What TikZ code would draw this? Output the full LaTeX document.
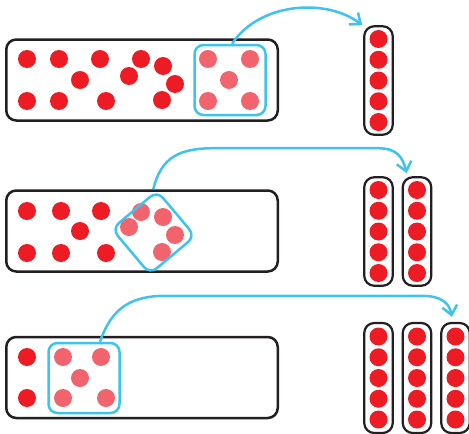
\documentclass[tikz,border=0pt]{standalone}
\usepackage{tikz}
\usetikzlibrary{arrows.meta,positioning,calc}
\definecolor{dotred}{HTML}{ED1C24}
\definecolor{dotpink}{HTML}{F2646D}
\definecolor{pickblue}{HTML}{3EC3EF}
\definecolor{framegray}{HTML}{231F20}

\begin{document}
\begin{tikzpicture}[
    x=1pt, y=-1pt,
    tray/.style={rectangle, rounded corners=10pt, draw=framegray, line width=2.5pt, fill=white, minimum width=271.5pt, minimum height=81pt, inner sep=0pt},
    stick/.style={rectangle, rounded corners=10pt, draw=framegray, line width=2.2pt, fill=white, minimum width=28.5pt, minimum height=108.5pt, inner sep=0pt},
    pick/.style={rectangle, rounded corners=9pt, draw=pickblue, line width=2.5pt, minimum width=71pt, minimum height=70pt, inner sep=0pt},
    dot/.style={fill=dotred},
    dotl/.style={fill=dotpink},
    arrow/.style={-{Straight Barb[length=9pt,width=15pt]}, draw=pickblue, line width=2.5pt}
  ]
    \useasboundingbox (0,0) rectangle (469,434);

    % the three trays
    \node[tray] (tray1) at (142,80) {};
    \node[tray] (tray2) at (142,231) {};
    \node[tray] (tray3) at (142,377.5) {};

    % sticks of five
    \node[stick] (col1) at (378.5,80.5) {};
    \node[stick] (col2a) at (378.5,231.5) {};
    \node[stick] (col2b) at (417,231.5) {};
    \node[stick, minimum height=110pt] (col3a) at (378.5,378) {};
    \node[stick, minimum height=110pt] (col3b) at (417,378) {};
    \node[stick, minimum height=110pt] (col3c) at (455.5,378) {};

    % loose counters
    \foreach \p in {(27,59),(59,59),(100,59),(141,59),(163,66),(80,80),(129,76),(175,84),(27,101),(59,101),(106,101),(162,100)}
      \fill[dot] \p circle (9);
    \foreach \p in {(208,59),(250,59),(229,80),(208,101),(250,101)}
      \fill[dotl] \p circle (9);

    \foreach \p in {(27,211),(61,211),(101,211),(80,231),(27,253),(61,253),(106,253)}
      \fill[dot] \p circle (9);
    \foreach \p in {(141,212),(163,217),(129,227),(175,235),(162,252)}
      \fill[dotl] \p circle (9);

    \foreach \p in {(27,357),(27,398)}
      \fill[dot] \p circle (9);
    \foreach \p in {(63,357),(101,357),(80,378),(63,398),(106,398)}
      \fill[dotl] \p circle (9);

    % counters in the sticks
    \foreach \c in {col1,col2a,col2b,col3a,col3b,col3c}
      \foreach \k in {-2,...,2}
        \fill[dot] ($(\c.center)+(0,\k*20.75)$) circle (9);

    % groups of five
    \node[pick] (sel1) at (230,80) {};
    \node[pick, rotate=40, minimum width=59pt, minimum height=59pt] (sel2) at (153.5,232.5) {};
    \node[pick] (sel3) at (84,378) {};

    \draw[arrow] ([xshift=2pt]sel1.north) .. controls +(28,-42) and +(-35,-27) .. ([xshift=-1pt]col1.north west);
    \draw[arrow] ([xshift=-4pt]sel2.north east) .. controls +(8,-33) and +(-35,0) .. ++(62,-41) -- ++(162,0)
      .. controls +(20,0) and +(-4,-16) .. ([xshift=5pt,yshift=3pt]col2b.north west);
    \draw[arrow] ([xshift=16pt]sel3.north) .. controls +(12,-35) and +(-35,0) .. ++(67,-46) -- ++(253,0)
      .. controls +(22,0) and +(-3,-14) .. ([xshift=-3.5pt,yshift=5pt]col3c.north);
  \end{tikzpicture}
\end{document}
